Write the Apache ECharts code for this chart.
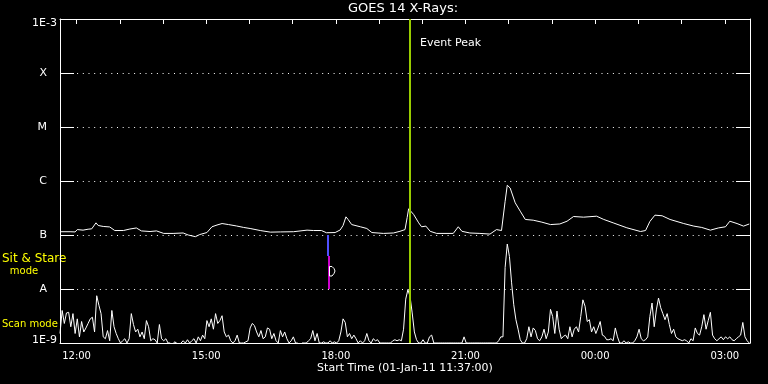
<!DOCTYPE html>
<html><head><meta charset="utf-8">
<script src="https://cdn.jsdelivr.net/npm/echarts@6/dist/echarts.min.js"></script>
<style>html,body{margin:0;background:#000}#c{width:768px;height:384px}</style>
</head><body><div id="c"></div>
<script>
// Time axis in minutes since 00:00 on 01-Jan-11; plot starts 11:37
const startMinute = 697;
const endMinute = 1655;
const xTickValues = [720, 900, 1080, 1260, 1440, 1620];
const xTickLabels = ['12:00', '15:00', '18:00', '21:00', '00:00', '03:00'];
const xHourTicks = [720, 780, 840, 900, 960, 1020, 1080, 1140, 1200, 1260, 1320, 1380, 1440, 1500, 1560, 1620];
// labels for decades 1E-9 .. 1E-3
const yTickLabels = ['1E-9', 'A', 'B', 'C', 'M', 'X', '1E-3'];

// long channel (1-8 A): minutes after 11:37, flux in units of 1e-7 W/m^2
const longT = [0,14,21,24,32,39,44,50,53,60,69,76,88,97,106,113,125,134,144,157,171,178,188,194,204,211,218,225,234,245,255,264,278,292,306,324,343,352,363,370,382,389,393,397,400,405,417,426,433,449,463,472,479,482,484,491,498,502,508,514,523,546,553,558,569,583,597,606,613,618,621,625,632,639,646,657,669,681,694,704,713,727,745,755,768,787,806,813,819,826,836,847,866,880,891,903,914,924,930,940,949,957];
const longV = [1.15,1.15,1.14,1.26,1.23,1.28,1.30,1.68,1.50,1.44,1.41,1.21,1.21,1.29,1.35,1.19,1.16,1.19,1.07,1.07,1.09,1.0,0.93,1.02,1.11,1.42,1.53,1.63,1.56,1.47,1.38,1.32,1.21,1.13,1.14,1.15,1.23,1.21,1.21,1.10,1.11,1.24,1.50,2.17,1.94,1.56,1.42,1.32,1.11,1.07,1.09,1.17,1.26,2.1,3.06,2.4,1.68,1.42,1.46,1.17,1.07,1.07,1.42,1.17,1.09,1.07,1.04,1.26,1.21,4.2,8.36,7.4,3.95,2.76,1.94,1.88,1.73,1.56,1.6,1.80,2.2,2.14,2.23,1.94,1.68,1.36,1.16,1.21,1.78,2.33,2.27,1.94,1.63,1.46,1.38,1.23,1.35,1.42,1.80,1.63,1.46,1.6];
const longUnit = 1e-7;

// short channel (0.5-4 A): one value every 3 minutes from 11:37, units of 1e-9 W/m^2
const shortStep = 3;
const shortV = [
1.5,4.0,2.3,3.6,3.7,2.0,3.5,1.5,2.8,1.3,
2.5,1.6,1.9,2.3,2.8,3.0,1.6,7.5,5.0,3.5,
1.3,1.2,1.7,1.1,4.0,2.0,1.5,1.2,1.0,1.1,
1.2,1.0,1.2,3.5,2.2,1.6,1.8,1.3,1.6,1.2,
2.6,2.0,1.1,1.2,1.15,1.0,2.2,1.2,1.1,1.2,
1.0,1.0,0.9,1.05,1.0,0.9,1.0,1.1,1.0,1.15,
1.0,1.1,1.2,1.0,1.3,1.1,1.4,1.2,2.6,2.0,
2.8,1.8,3.5,2.3,2.6,3.2,1.6,1.3,1.4,1.1,
1.0,1.1,1.4,1.0,1.0,1.0,1.05,1.1,1.9,2.3,
2.1,1.6,1.3,1.7,1.2,1.3,1.9,1.8,1.2,1.5,
1.1,1.0,1.7,1.3,1.6,1.2,1.0,1.1,1.3,1.0,
1.0,0.9,1.0,1.0,1.0,1.1,1.2,1.7,1.1,1.5,
1.0,1.0,1.05,1.0,1.0,1.1,1.0,1.05,1.0,1.1,
1.6,2.8,2.4,1.3,1.5,1.2,1.4,1.2,1.0,1.1,
1.0,1.1,1.5,1.1,1.0,1.2,1.1,1.15,1.0,1.0,
1.0,1.0,1.0,1.0,1.1,1.15,1.1,1.15,1.1,1.8,
6.5,9.7,7.3,3.6,1.6,1.15,1.0,1.0,1.15,1.0,
1.0,1.3,1.4,1.0,1.0,1.0,1.0,1.0,1.0,1.0,
1.0,1.0,1.0,1.0,1.0,1.0,1.0,1.3,1.0,1.0,
1.0,1.0,1.0,1.0,1.0,1.0,1.0,1.0,1.0,1.0,
1.0,1.0,1.0,1.1,1.3,1.3,25,68,40,13,
5.1,2.7,1.8,1.15,1.0,1.0,1.2,2.0,1.3,1.9,
1.7,1.2,1.1,1.3,1.8,1.2,1.6,4.2,3.1,1.5,
3.9,1.8,1.2,1.33,1.4,1.2,2.0,1.3,1.8,2.0,
1.6,3.1,6.3,4.8,2.5,2.7,1.6,2.0,1.5,1.9,
2.5,1.4,1.33,1.15,1.15,1.2,1.1,1.9,1.3,1.0,
1.0,1.1,1.0,1.05,1.0,1.0,1.1,1.3,1.8,1.2,
1.1,1.15,1.3,3.1,5.5,2.0,4.1,6.8,4.5,3.5,
2.7,3.5,2.2,1.5,1.8,1.3,1.2,1.15,1.1,1.15,
1.1,1.0,1.2,1.1,1.9,1.5,1.4,2.0,3.35,1.8,
2.6,3.7,1.4,1.2,1.1,1.2,1.3,1.15,1.3,1.2,
1.3,1.15,1.1,1.2,1.3,1.4,2.4,1.3,1.1,1.0];
const shortUnit = 1e-9;

const eventPeakMinute = 1183;
const modeMinute = 1069;
const modeBlue = [1e-7, 4.1e-8];
const modeMagenta = [4.1e-8, 1e-8];

const longData = longT.map((t, i) => [startMinute + t, longV[i] * longUnit]);
const shortData = shortV.map((v, i) => [startMinute + i * shortStep, v * shortUnit]);

const FONT = '"DejaVu Sans", sans-serif';
const chart = echarts.init(document.getElementById('c'));
chart.setOption({
  backgroundColor: '#000',
  animation: false,
  grid: { left: 60, right: 18, top: 19, bottom: 41 },
  xAxis: [
    { type: 'value', min: startMinute, max: endMinute, position: 'bottom',
      axisLine: { lineStyle: { color: '#fff', width: 1 } },
      axisTick: { show: false }, splitLine: { show: false },
      axisLabel: { customValues: xTickValues, formatter: v => xTickLabels[xTickValues.indexOf(v)],
        color: '#fff', fontSize: 10, fontFamily: FONT, margin: 8 } },
    { type: 'value', min: startMinute, max: endMinute, position: 'top',
      axisLine: { lineStyle: { color: '#fff', width: 1 } },
      axisTick: { show: true, inside: true, length: 5, customValues: xHourTicks, lineStyle: { color: '#fff' } },
      axisLabel: { show: false }, splitLine: { show: false } }
  ],
  yAxis: [
    { type: 'log', logBase: 10, min: 1e-9, max: 1e-3, position: 'left',
      axisLine: { show: true, lineStyle: { color: '#fff', width: 1 } },
      axisTick: { show: true, inside: true, length: 14, lineStyle: { color: '#fff' } },
      splitLine: { show: true, lineStyle: { color: '#fff', width: 1, type: [1, 4.7] } },
      axisLabel: {
        color: '#fff', fontSize: 11, fontFamily: FONT, margin: 3,
        formatter: v => {
          const e = Math.round(Math.log10(v));
          const s = yTickLabels[e + 9];
          if (e === -3) return '{top|' + s + '}';
          if (e === -9) return '{bot|' + s + '}';
          return '{let|' + s + '}';
        },
        rich: {
          top: { color: '#fff', fontSize: 11, fontFamily: FONT, padding: [8, 0, 0, 0] },
          bot: { color: '#fff', fontSize: 11, fontFamily: FONT, padding: [0, 0, 5, 0] },
          let: { color: '#fff', fontSize: 11, fontFamily: FONT, padding: [0, 10, 0, 0] }
        }
      } },
    { type: 'log', logBase: 10, min: 1e-9, max: 1e-3, position: 'right',
      axisLine: { show: true, lineStyle: { color: '#fff', width: 1 } },
      axisTick: { show: true, inside: true, length: 14, lineStyle: { color: '#fff' } },
      splitLine: { show: false }, axisLabel: { show: false } }
  ],
  series: [
    { type: 'line', data: longData, showSymbol: false, symbol: 'none',
      lineStyle: { color: '#fff', width: 1 }, clip: true, z: 3,
      markLine: { silent: true, symbol: ['none', 'none'], label: { show: false },
        lineStyle: { color: '#99cc00', width: 2, type: 'solid' },
        data: [{ xAxis: eventPeakMinute }] } },
    { type: 'line', data: shortData, showSymbol: false, symbol: 'none',
      lineStyle: { color: '#fff', width: 1 }, clip: true, z: 3,
      markLine: { silent: true, symbol: ['none', 'none'], label: { show: false },
        data: [
          [{ coord: [modeMinute, modeBlue[0]], lineStyle: { color: '#5050ff', width: 2, type: 'solid' } },
           { coord: [modeMinute, modeBlue[1]] }],
          [{ coord: [modeMinute + 0.8, modeMagenta[0]], lineStyle: { color: '#cc00cc', width: 2, type: 'solid' } },
           { coord: [modeMinute + 0.8, modeMagenta[1]] }]
        ] } }
  ],
  graphic: [
    { type: 'text', x: 403, y: 9, style: { text: 'GOES 14 X-Rays:', fill: '#fff', font: '13px ' + FONT, align: 'center', verticalAlign: 'middle' } },
    { type: 'text', x: 420, y: 43, style: { text: 'Event Peak', fill: '#fff', font: '11px ' + FONT, align: 'left', verticalAlign: 'middle' } },
    { type: 'text', x: 2, y: 259, style: { text: 'Sit & Stare', fill: '#ffff00', font: '12px ' + FONT, align: 'left', verticalAlign: 'middle' } },
    { type: 'text', x: 24, y: 271, style: { text: 'mode', fill: '#ffff00', font: '10px ' + FONT, align: 'center', verticalAlign: 'middle' } },
    { type: 'text', x: 2, y: 324, style: { text: 'Scan mode', fill: '#ffff00', font: '10px ' + FONT, align: 'left', verticalAlign: 'middle' } },
    { type: 'text', x: 405, y: 368, style: { text: 'Start Time (01-Jan-11 11:37:00)', fill: '#fff', font: '11px ' + FONT, align: 'center', verticalAlign: 'middle' } },
    { type: 'polyline', z: 10, shape: { points: [[329.5,266.5],[332,266.5],[334,268.5],[335,271],[334,273.5],[332,276],[329.5,276],[329.5,266.5]] },
      style: { stroke: '#fff', lineWidth: 1, fill: null } }
  ]
});
</script></body></html>
